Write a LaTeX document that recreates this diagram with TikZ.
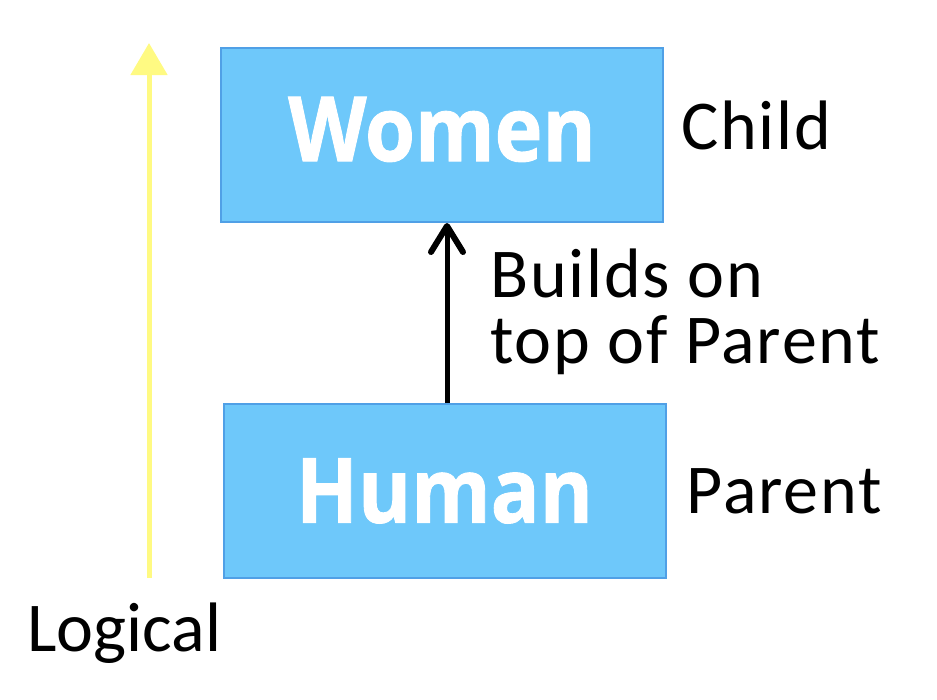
\documentclass[tikz,border=0pt]{standalone}
\usepackage{fontspec}
\setmainfont[LetterSpace=2.5]{Carlito}
\newfontfamily\boxfont[BoldFeatures={FakeBold=1,FakeStretch=0.9}]{Open Sans}
\usetikzlibrary{arrows.meta,positioning}

\definecolor{boxfill}{RGB}{110,200,250}
\definecolor{boxline}{RGB}{80,160,230}
\definecolor{logicyellow}{RGB}{255,250,130}

\tikzset{
  classbox/.style={draw=boxline, line width=2pt, fill=boxfill, minimum width=442pt, minimum height=174pt,
    inner sep=0pt, text=white, font=\boxfont\bfseries\fontsize{90}{94}\selectfont},
  sidelabel/.style={inner sep=0pt, anchor=west, font=\fontsize{70}{66}\selectfont}
}

\begin{document}
\begin{tikzpicture}[x=1pt,y=-1pt]
\useasboundingbox (0,0) rectangle (937,699);

\node[classbox] (women) at (442,135) {\raisebox{12pt}{Women}};
\node[classbox] (human) at (444.5,491) {Human};

\node[sidelabel, right=17pt of women, yshift=10pt] (child) {Child};
\node[sidelabel, right=20pt of human] (parent) {Parent};

% yellow direction arrow on the left
\coordinate (logicbase) at (149,578);
\coordinate (logictop) at (149,43);
\draw[logicyellow, line width=5pt, -{Triangle[width=36pt,length=32pt]}] (logicbase) -- (logictop);
\node[sidelabel] (logical) at (27,633) {\addfontfeatures{LetterSpace=0}Logical};

% inheritance arrow
\draw[line width=5pt, -{Straight Barb[length=26pt,width=32pt,line width=6pt,round]}] ([xshift=2.5pt]human.north) -- ([xshift=2.5pt]human.north |- women.south);
\node[sidelabel, align=left] (builds) at (490,312) {Builds on\\top of Parent};

\end{tikzpicture}
\end{document}
